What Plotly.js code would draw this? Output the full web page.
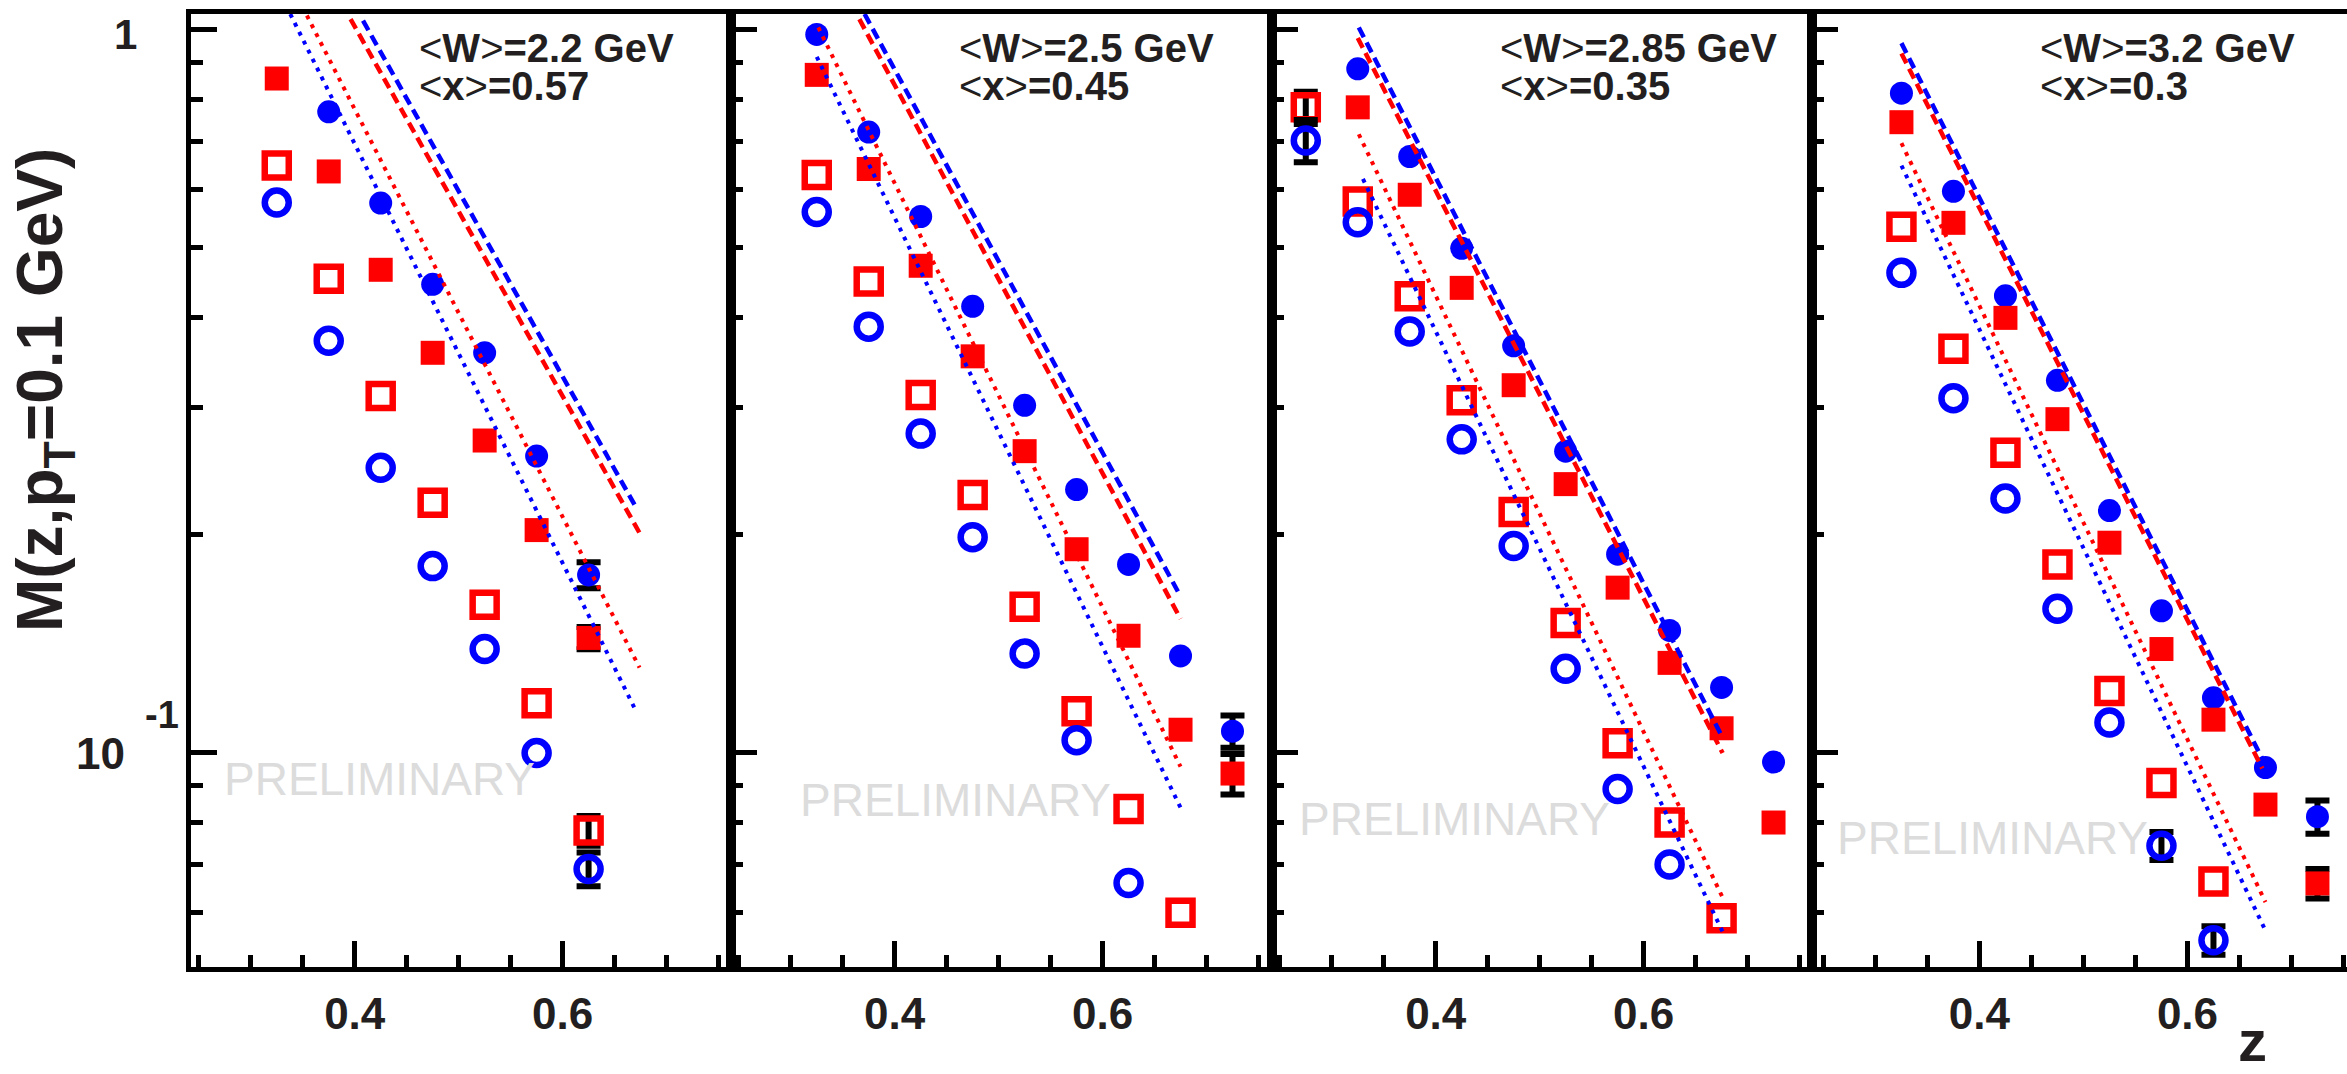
<!DOCTYPE html>
<html>
<head>
<meta charset="utf-8">
<script src="https://cdn.plot.ly/plotly-3.0.1.min.js"></script>
<style>html,body{margin:0;padding:0;background:#fff;}#plot{width:2347px;height:1074px;}</style>
</head>
<body>
<div id="plot"></div>
<script>
// ---------------- DATA ----------------
const panelLabelsW = ["2.2", "2.5", "2.85", "3.2"];
const panelLabelsX = ["0.57", "0.45", "0.35", "0.3"];
const xTickVals = [0.4, 0.6];
const xTickText = ["0.4", "0.6"];

// Panel 1: <W>=2.2 GeV
const p1_z          = [0.325, 0.375, 0.425, 0.475, 0.525, 0.575, 0.625];
const p1_blueFilled = [null, 0.769, 0.575, 0.444, 0.357, 0.257, 0.176];
const p1_redFilled  = [0.855, 0.636, 0.465, 0.357, 0.270, 0.203, 0.144];
const p1_redOpen    = [0.648, 0.452, 0.311, 0.2215, 0.160, 0.117, 0.078];
const p1_blueOpen   = [0.576, 0.371, 0.2475, 0.181, 0.139, 0.0998, 0.069];
const p1_blueFilledErr = [NaN, NaN, NaN, NaN, NaN, NaN, 0.0073];
const p1_redFilledErr  = [NaN, NaN, NaN, NaN, NaN, NaN, 0.0051];
const p1_redOpenErr    = [NaN, NaN, NaN, NaN, NaN, NaN, 0.0037];
const p1_blueOpenErr   = [NaN, NaN, NaN, NaN, NaN, NaN, 0.0037];
const p1_blueDashed_z = [0.408, 0.671], p1_blueDashed_M = [1.028, 0.2177];
const p1_redDashed_z  = [0.396, 0.675], p1_redDashed_M  = [1.033, 0.200];
const p1_blueDotted_z = [0.338, 0.671], p1_blueDotted_M = [1.05, 0.1138];
const p1_redDotted_z  = [0.354, 0.674], p1_redDotted_M  = [1.045, 0.131];

// Panel 2: <W>=2.5 GeV
const p2_z          = [0.325, 0.375, 0.425, 0.475, 0.525, 0.575, 0.625, 0.675, 0.725];
const p2_blueFilled = [0.984, 0.721, 0.551, 0.414, 0.302, 0.231, 0.182, 0.136, 0.107];
const p2_redFilled  = [0.865, 0.641, 0.471, 0.353, 0.261, 0.191, 0.145, 0.1075, 0.0935];
const p2_redOpen    = [0.629, 0.448, 0.312, 0.227, 0.159, 0.114, 0.0835, 0.060, null];
const p2_blueOpen   = [0.559, 0.388, 0.276, 0.1985, 0.137, 0.104, 0.066, null, null];
const p2_blueFilledErr = [NaN, NaN, NaN, NaN, NaN, NaN, NaN, NaN, 0.0055];
const p2_redFilledErr  = [NaN, NaN, NaN, NaN, NaN, NaN, NaN, NaN, 0.0060];
const p2_redOpenErr    = [NaN, NaN, NaN, NaN, NaN, NaN, NaN, NaN, NaN];
const p2_blueOpenErr   = [NaN, NaN, NaN, NaN, NaN, NaN, NaN, NaN, NaN];
const p2_blueDashed_z = [0.371, 0.675], p2_blueDashed_M = [1.05, 0.1644];
const p2_redDashed_z  = [0.366, 0.675], p2_redDashed_M  = [1.033, 0.153];
const p2_blueDotted_z = [0.325, 0.675], p2_blueDotted_M = [0.916, 0.0839];
const p2_redDotted_z  = [0.3265, 0.675], p2_redDotted_M = [1.006, 0.0956];

// Panel 3: <W>=2.85 GeV
const p3_z          = [0.275, 0.325, 0.375, 0.425, 0.475, 0.525, 0.575, 0.625, 0.675, 0.725];
const p3_blueFilled = [null, 0.882, 0.667, 0.498, 0.365, 0.261, 0.188, 0.1475, 0.123, 0.097];
const p3_redFilled  = [null, 0.780, 0.5905, 0.439, 0.322, 0.235, 0.169, 0.133, 0.108, 0.080];
const p3_redOpen    = [0.780, 0.578, 0.4275, 0.307, 0.215, 0.151, 0.103, 0.080, 0.059, null];
const p3_blueOpen   = [0.702, 0.541, 0.382, 0.271, 0.193, 0.1305, 0.089, 0.070, null, null];
const p3_blueFilledErr = [NaN, NaN, NaN, NaN, NaN, NaN, NaN, NaN, NaN, NaN];
const p3_redFilledErr  = [NaN, NaN, NaN, NaN, NaN, NaN, NaN, NaN, NaN, NaN];
const p3_redOpenErr    = [0.040, NaN, NaN, NaN, NaN, NaN, NaN, NaN, NaN, NaN];
const p3_blueOpenErr   = [0.047, NaN, NaN, NaN, NaN, NaN, NaN, NaN, NaN, NaN];
const p3_blueDashed_z = [0.326, 0.676], p3_blueDashed_M = [1.006, 0.1048];
const p3_redDashed_z  = [0.325, 0.676], p3_redDashed_M  = [0.973, 0.0998];
const p3_blueDotted_z = [0.330, 0.676], p3_blueDotted_M = [0.621, 0.0565];
const p3_redDotted_z  = [0.326, 0.676], p3_redDotted_M  = [0.716, 0.063];

// Panel 4: <W>=3.2 GeV
const p4_z          = [0.325, 0.375, 0.425, 0.475, 0.525, 0.575, 0.625, 0.675, 0.725];
const p4_blueFilled = [0.816, 0.597, 0.428, 0.327, 0.216, 0.157, 0.119, 0.0953, 0.0815];
const p4_redFilled  = [0.744, 0.540, 0.399, 0.289, 0.195, 0.139, 0.111, 0.0847, 0.0659];
const p4_redOpen    = [0.5335, 0.3615, 0.2596, 0.182, 0.1216, 0.0907, 0.0663, null, null];
const p4_blueOpen   = [0.4605, 0.309, 0.2245, 0.158, 0.110, 0.0743, 0.055, null, null];
const p4_blueFilledErr = [NaN, NaN, NaN, NaN, NaN, NaN, NaN, NaN, 0.0043];
const p4_redFilledErr  = [NaN, NaN, NaN, NaN, NaN, NaN, NaN, NaN, 0.0031];
const p4_redOpenErr    = [NaN, NaN, NaN, NaN, NaN, NaN, NaN, NaN, NaN];
const p4_blueOpenErr   = [NaN, NaN, NaN, NaN, NaN, 0.0033, 0.0025, NaN, NaN];
const p4_blueDashed_z = [0.325, 0.6735], p4_blueDashed_M = [0.957, 0.097];
const p4_redDashed_z  = [0.325, 0.672], p4_redDashed_M  = [0.926, 0.095];
const p4_blueDotted_z = [0.325, 0.674], p4_blueDotted_M = [0.648, 0.0571];
const p4_redDotted_z  = [0.325, 0.675], p4_redDotted_M  = [0.696, 0.0621];

// ---------------- LAYOUT / STYLE ----------------
const W = 2347, H = 1074;
const L = 191, T = 14, B = 967;
const plotW = W - L, plotH = B - T;
const px = x => (x - L) / plotW;
const py = y => (B - y) / plotH;

const panelPx = [[191, 731], [731, 1272], [1272, 1812], [1812, 2347]];
const panelRange = [[0.2425, 0.762], [0.2425, 0.763], [0.2425, 0.762], [0.239, 0.7534]];
const BLUE = '#0000ff', RED = '#ff0000', INK = '#231f20';
const FONT = 'Liberation Sans, Arial, Helvetica, sans-serif';

const panels = [
  {z: p1_z, bf: p1_blueFilled, rf: p1_redFilled, ro: p1_redOpen, bo: p1_blueOpen,
   bfe: p1_blueFilledErr, rfe: p1_redFilledErr, roe: p1_redOpenErr, boe: p1_blueOpenErr,
   lines: [[p1_blueDashed_z, p1_blueDashed_M], [p1_redDashed_z, p1_redDashed_M], [p1_blueDotted_z, p1_blueDotted_M], [p1_redDotted_z, p1_redDotted_M]]},
  {z: p2_z, bf: p2_blueFilled, rf: p2_redFilled, ro: p2_redOpen, bo: p2_blueOpen,
   bfe: p2_blueFilledErr, rfe: p2_redFilledErr, roe: p2_redOpenErr, boe: p2_blueOpenErr,
   lines: [[p2_blueDashed_z, p2_blueDashed_M], [p2_redDashed_z, p2_redDashed_M], [p2_blueDotted_z, p2_blueDotted_M], [p2_redDotted_z, p2_redDotted_M]]},
  {z: p3_z, bf: p3_blueFilled, rf: p3_redFilled, ro: p3_redOpen, bo: p3_blueOpen,
   bfe: p3_blueFilledErr, rfe: p3_redFilledErr, roe: p3_redOpenErr, boe: p3_blueOpenErr,
   lines: [[p3_blueDashed_z, p3_blueDashed_M], [p3_redDashed_z, p3_redDashed_M], [p3_blueDotted_z, p3_blueDotted_M], [p3_redDotted_z, p3_redDotted_M]]},
  {z: p4_z, bf: p4_blueFilled, rf: p4_redFilled, ro: p4_redOpen, bo: p4_blueOpen,
   bfe: p4_blueFilledErr, rfe: p4_redFilledErr, roe: p4_redOpenErr, boe: p4_blueOpenErr,
   lines: [[p4_blueDashed_z, p4_blueDashed_M], [p4_redDashed_z, p4_redDashed_M], [p4_blueDotted_z, p4_blueDotted_M], [p4_redDotted_z, p4_redDotted_M]]}
];

const errStyle = arr => ({type: 'data', array: arr, visible: true, color: '#000', thickness: 6, width: 12});
const lineStyles = [
  {color: BLUE, width: 4.5, dash: '11px,6px'},
  {color: RED,  width: 4.5, dash: '11px,6px'},
  {color: BLUE, width: 4,   dash: '4px,6px'},
  {color: RED,  width: 4,   dash: '4px,6px'}
];

const traces = [];
const layout = {
  width: W, height: H,
  margin: {l: L, r: 0, t: T, b: H - B, pad: 0},
  paper_bgcolor: '#fff', plot_bgcolor: '#fff',
  showlegend: false,
  font: {family: FONT, color: INK},
  annotations: []
};

const yMinorVals = [0.06, 0.07, 0.08, 0.09, 0.2, 0.3, 0.4, 0.5, 0.6, 0.7, 0.8, 0.9];
const xMinorVals = [0.25, 0.3, 0.35, 0.45, 0.5, 0.55, 0.65, 0.7, 0.75];

panels.forEach((p, i) => {
  const s = i === 0 ? '' : String(i + 1);
  const xa = 'x' + s, ya = 'y' + s;
  const common = {xaxis: xa, yaxis: ya, type: 'scatter', mode: 'markers', hoverinfo: 'skip', cliponaxis: true};
  traces.push(Object.assign({}, common, {x: p.z, y: p.ro, marker: {symbol: 'square-open', size: 24, color: RED, line: {width: 6.5, color: RED}}, error_y: errStyle(p.roe)}));
  traces.push(Object.assign({}, common, {x: p.z, y: p.bo, marker: {symbol: 'circle-open', size: 24, color: BLUE, line: {width: 6.5, color: BLUE}}, error_y: errStyle(p.boe)}));
  traces.push(Object.assign({}, common, {x: p.z, y: p.bf, marker: {symbol: 'circle', size: 23, color: BLUE, line: {width: 0}}, error_y: errStyle(p.bfe)}));
  traces.push(Object.assign({}, common, {x: p.z, y: p.rf, marker: {symbol: 'square', size: 24, color: RED, line: {width: 0}}, error_y: errStyle(p.rfe)}));
  p.lines.forEach((ln, k) => {
    traces.push({xaxis: xa, yaxis: ya, type: 'scatter', mode: 'lines', hoverinfo: 'skip', x: ln[0], y: ln[1], line: lineStyles[k]});
  });

  const dom = [px(panelPx[i][0]), px(panelPx[i][1])];
  layout['xaxis' + s] = {
    domain: dom, range: panelRange[i], anchor: ya,
    showline: true, linewidth: 5, linecolor: '#000', mirror: true,
    showgrid: false, zeroline: false,
    ticks: 'inside', ticklen: 26, tickwidth: 5, tickcolor: '#000',
    tickmode: 'array', tickvals: xTickVals, ticktext: xTickText,
    tickfont: {family: FONT, size: 44, color: INK, weight: 'bold'},
    ticklabelstandoff: 4,
    minor: {ticks: 'inside', ticklen: 12, tickwidth: 5, tickcolor: '#000', tickmode: 'array', tickvals: xMinorVals, showgrid: false}
  };
  layout['yaxis' + s] = {
    type: 'log', domain: [0, 1], range: [Math.log10(0.0505), Math.log10(1.05)], anchor: xa,
    showline: true, linewidth: 5, linecolor: '#000', mirror: i < 3,
    showgrid: false, zeroline: false,
    ticks: 'inside', ticklen: 26, tickwidth: 5, tickcolor: '#000',
    tickmode: 'array', tickvals: [0.1, 1], showticklabels: false,
    minor: {ticks: 'inside', ticklen: 12, tickwidth: 5, tickcolor: '#000', tickmode: 'array', tickvals: yMinorVals, showgrid: false}
  };

  const left = panelPx[i][0];
  const norm = '<span style="font-weight:normal">';
  layout.annotations.push({xref: 'paper', yref: 'paper', x: px(left + 226), y: py(48), xanchor: 'left', yanchor: 'middle', showarrow: false,
    text: norm + '&lt;</span>W' + norm + '&gt;</span>=' + panelLabelsW[i] + ' GeV', font: {family: FONT, size: 40, color: INK, weight: 'bold'}});
  layout.annotations.push({xref: 'paper', yref: 'paper', x: px(left + 226), y: py(86), xanchor: 'left', yanchor: 'middle', showarrow: false,
    text: norm + '&lt;</span>x' + norm + '&gt;</span>=' + panelLabelsX[i], font: {family: FONT, size: 40, color: INK, weight: 'bold'}});
  const prelimX = [222, 798, 1297, 1835][i];
  const prelimY = [779, 800, 819, 838][i];
  layout.annotations.push({xref: 'paper', yref: 'paper', x: px(prelimX), y: py(prelimY), xanchor: 'left', yanchor: 'middle', showarrow: false,
    text: 'PRELIMINARY', font: {family: FONT, size: 46, color: '#dcdcdc'}});
});

// Y tick labels (log axis: annotation y given in log10 units) and titles
layout.annotations.push({xref: 'paper', yref: 'y', x: px(139), y: Math.log10(1), yshift: -5, xanchor: 'right', yanchor: 'middle', showarrow: false,
  text: '1', font: {family: FONT, size: 42, color: INK, weight: 'bold'}});
layout.annotations.push({xref: 'paper', yref: 'y', x: px(127), y: Math.log10(0.1), yshift: -1, xanchor: 'right', yanchor: 'middle', showarrow: false,
  text: '10', font: {family: FONT, size: 44, color: INK, weight: 'bold'}});
layout.annotations.push({xref: 'paper', yref: 'y', x: px(143), y: Math.log10(0.1), yshift: 37, xanchor: 'left', yanchor: 'middle', showarrow: false,
  text: '-1', font: {family: FONT, size: 38, color: INK, weight: 'bold'}});
layout.annotations.push({xref: 'paper', yref: 'paper', x: px(44), y: py(390), xanchor: 'center', yanchor: 'middle', showarrow: false, textangle: -90,
  text: 'M(z,p<sub>T</sub>=0.1 GeV)', font: {family: FONT, size: 64, color: INK, weight: 'bold'}});
layout.annotations.push({xref: 'paper', yref: 'paper', x: px(2252), y: py(1040), xanchor: 'center', yanchor: 'middle', showarrow: false,
  text: 'z', font: {family: FONT, size: 58, color: INK, weight: 'bold'}});

Plotly.newPlot('plot', traces, layout, {staticPlot: true, displayModeBar: false});
</script>
</body>
</html>
